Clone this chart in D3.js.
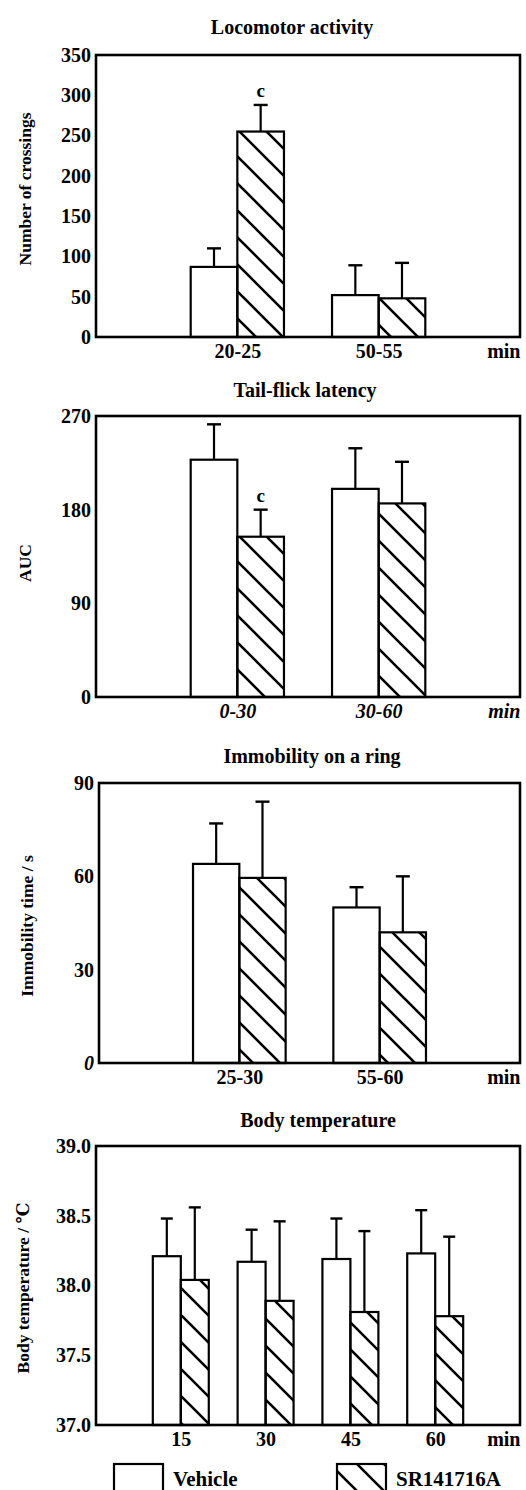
<!DOCTYPE html>
<html lang="en">
<head>
  <meta charset="utf-8">
  <title>SR141716A panels</title>
  <style>
    body { margin: 0; background: #fff; }
    text { font-family: "Liberation Serif", "DejaVu Serif", serif; font-weight: bold; fill: #000; }
  </style>
</head>
<body>
  <script src="https://cdn.jsdelivr.net/npm/d3@7"></script>
  <script>
    var w = 526, h = 1490;

    // Locomotor activity
    var locoCats = ["20-25", "50-55"];
    var locoVehicle = [87, 52];
    var locoVehicleSem = [23, 37];
    var locoSR = [255, 48];
    var locoSRSem = [33, 44];
    var locoTicks = [0, 50, 100, 150, 200, 250, 300, 350];

    // Tail-flick latency
    var tailCats = ["0-30", "30-60"];
    var tailVehicle = [228, 200];
    var tailVehicleSem = [34, 39];
    var tailSR = [154, 186];
    var tailSRSem = [26, 40];
    var tailTicks = [0, 90, 180, 270];

    // Immobility on a ring
    var ringCats = ["25-30", "55-60"];
    var ringVehicle = [64, 50];
    var ringVehicleSem = [13, 6.5];
    var ringSR = [59.5, 42];
    var ringSRSem = [24.5, 18];
    var ringTicks = [0, 30, 60, 90];

    // Body temperature
    var tempCats = ["15", "30", "45", "60"];
    var tempVehicle = [38.21, 38.17, 38.19, 38.23];
    var tempVehicleSem = [0.27, 0.23, 0.29, 0.31];
    var tempSR = [38.04, 37.89, 37.81, 37.78];
    var tempSRSem = [0.52, 0.57, 0.58, 0.57];
    var tempTicks = [37.0, 37.5, 38.0, 38.5, 39.0];

    var svg = d3.select("body").append("svg")
      .attr("width", w)
      .attr("height", h);

    var defs = svg.append("defs");
    var pat = defs.append("pattern")
      .attr("id", "hatch")
      .attr("patternUnits", "userSpaceOnUse")
      .attr("width", 27)
      .attr("height", 27);
    pat.append("path")
      .attr("d", "M0,0L27,27M-4,23L4,31M23,-4L31,4")
      .attr("stroke", "#000")
      .attr("stroke-width", 2.6);

    function drawPanel(p) {
      var g = svg.append("g");
      var y = d3.scaleLinear().domain(p.yDomain).range([p.bottom, p.top]);
      var x = d3.scalePoint().domain([""].concat(p.cats).concat(["min"]))
        .range([p.left, p.right]);
      var step = x.step();
      var bw = step * 0.33;

      g.append("text")
        .attr("x", p.titleX)
        .attr("y", p.titleY)
        .attr("text-anchor", "middle")
        .attr("dominant-baseline", "central")
        .style("font-size", "20px")
        .text(p.title);

      // y axis labels
      var yAxis = d3.axisLeft(y).tickValues(p.ticks).tickSize(0).tickPadding(5)
        .tickFormat(p.fmt);
      var ya = g.append("g").attr("transform", "translate(" + p.left + ",0)").call(yAxis);
      ya.select(".domain").remove();
      ya.selectAll("text")
        .style("font-size", "20px")
        .style("font-family", "'Liberation Serif', serif")
        .style("font-weight", "bold")
        .style("font-style", function(d) { return p.italicZero && d === 0 ? "italic" : null; });

      g.append("text")
        .attr("transform", "translate(" + p.yLabelX + "," + p.yLabelY + ") rotate(-90)")
        .attr("text-anchor", "middle")
        .attr("dominant-baseline", "central")
        .style("font-size", "17.5px")
        .text(p.yLabel);

      var groups = p.cats.map(function(c, i) {
        return { cat: c, v: p.vehicle[i], vs: p.vehicleSem[i], s: p.sr[i], ss: p.srSem[i] };
      });

      var bars = [];
      groups.forEach(function(d) {
        bars.push({ x0: x(d.cat) - bw, val: d.v, sem: d.vs, fill: "#fff" });
        bars.push({ x0: x(d.cat), val: d.s, sem: d.ss, fill: "url(#hatch)", mark: d.cat === p.markCat });
      });

      // error bars (upper only)
      var capW = p.capW;
      bars.forEach(function(b) {
        var cx = b.x0 + bw / 2;
        g.append("line")
          .attr("x1", cx).attr("x2", cx)
          .attr("y1", y(b.val)).attr("y2", y(b.val + b.sem))
          .attr("stroke", "#000").attr("stroke-width", 2.2);
        g.append("line")
          .attr("x1", cx - capW / 2).attr("x2", cx + capW / 2)
          .attr("y1", y(b.val + b.sem)).attr("y2", y(b.val + b.sem))
          .attr("stroke", "#000").attr("stroke-width", 2.4);
        if (b.mark) {
          g.append("text")
            .attr("x", cx)
            .attr("y", y(b.val + b.sem) - 8)
            .attr("text-anchor", "middle")
            .style("font-size", "19px")
            .text("c");
        }
      });

      g.selectAll("rect.bar").data(bars).enter().append("rect")
        .attr("class", "bar")
        .attr("x", function(b) { return b.x0; })
        .attr("y", function(b) { return y(b.val); })
        .attr("width", bw)
        .attr("height", function(b) { return p.bottom - y(b.val); })
        .attr("fill", function(b) { return b.fill; })
        .attr("stroke", "#000")
        .attr("stroke-width", 2.2);

      // frame
      g.append("rect")
        .attr("x", p.left).attr("y", p.top)
        .attr("width", p.right - p.left).attr("height", p.bottom - p.top)
        .attr("fill", "none").attr("stroke", "#000").attr("stroke-width", 2.6);

      // x labels
      var xAxis = d3.axisBottom(x).tickSize(0).tickPadding(7)
        .tickValues(p.cats.concat(["min"]));
      var xa = g.append("g").attr("transform", "translate(0," + p.bottom + ")").call(xAxis);
      xa.select(".domain").remove();
      xa.selectAll("text")
        .style("font-size", "20px")
        .style("font-family", "'Liberation Serif', serif")
        .style("font-weight", "bold")
        .style("font-style", p.italicX ? "italic" : null)
        .attr("text-anchor", function(d) { return d === "min" ? "end" : "middle"; });
    }

    drawPanel({
      title: "Locomotor activity", titleX: 292, titleY: 27,
      cats: locoCats, vehicle: locoVehicle, vehicleSem: locoVehicleSem, sr: locoSR, srSem: locoSRSem,
      ticks: locoTicks, yDomain: [0, 350], fmt: d3.format("d"),
      top: 55, bottom: 337, left: 96, right: 520,
      yLabel: "Number of crossings", yLabelX: 25, yLabelY: 189, capW: 14, markCat: "20-25"
    });

    drawPanel({
      title: "Tail-flick latency", titleX: 305, titleY: 390,
      cats: tailCats, vehicle: tailVehicle, vehicleSem: tailVehicleSem, sr: tailSR, srSem: tailSRSem,
      ticks: tailTicks, yDomain: [0, 270], fmt: d3.format("d"),
      top: 416, bottom: 697, left: 96, right: 520,
      yLabel: "AUC", yLabelX: 25, yLabelY: 563, capW: 14, markCat: "0-30", italicX: true
    });

    drawPanel({
      title: "Immobility on a ring", titleX: 312, titleY: 756,
      cats: ringCats, vehicle: ringVehicle, vehicleSem: ringVehicleSem, sr: ringSR, srSem: ringSRSem,
      ticks: ringTicks, yDomain: [0, 90], fmt: d3.format("d"),
      top: 783, bottom: 1063, left: 99, right: 520,
      yLabel: "Immobility time / s", yLabelX: 27, yLabelY: 926, capW: 14, italicZero: true
    });

    drawPanel({
      title: "Body temperature", titleX: 318, titleY: 1120,
      cats: tempCats, vehicle: tempVehicle, vehicleSem: tempVehicleSem, sr: tempSR, srSem: tempSRSem,
      ticks: tempTicks, yDomain: [37, 39], fmt: d3.format(".1f"),
      top: 1146, bottom: 1425, left: 96, right: 520,
      yLabel: "Body temperature / ℃", yLabelX: 23, yLabelY: 1288, capW: 12
    });

    // legend
    var legend = [
      { label: "Vehicle", fill: "#fff", x: 114 },
      { label: "SR141716A", fill: "url(#hatch)", x: 337 }
    ];
    var lg = svg.append("g");
    legend.forEach(function(d) {
      lg.append("rect")
        .attr("x", d.x).attr("y", 1464)
        .attr("width", 49).attr("height", 30)
        .attr("fill", d.fill).attr("stroke", "#000").attr("stroke-width", 2.2);
      lg.append("text")
        .attr("x", d.x + 59).attr("y", 1486)
        .style("font-size", "21px")
        .text(d.label);
    });
  </script>
</body>
</html>
